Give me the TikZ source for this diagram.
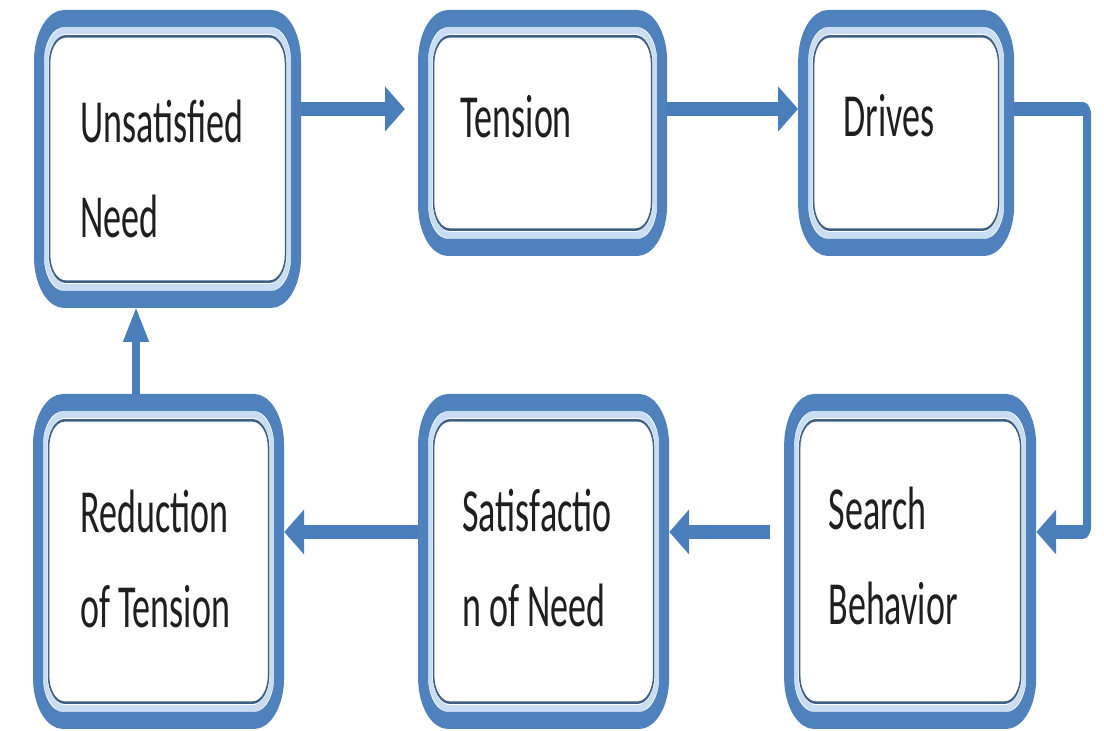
\documentclass[tikz,border=0pt]{standalone}
\usepackage{fontspec}
\setmainfont{Carlito}
\usetikzlibrary{arrows.meta,fit}
\definecolor{boxblue}{HTML}{4F81BD}
\definecolor{rimblue}{HTML}{C9DDF2}
\definecolor{rimdark}{HTML}{3F5F86}
\definecolor{flowblue}{HTML}{4A7EBB}

\begin{document}
\begin{tikzpicture}[>={Triangle[length=0.4cm,width=0.5cm]},
      stage/.style={draw=boxblue, line width=0.2cm, fill=white, rounded corners=0.5cm, inner sep=0pt,
        path picture={
          \draw[rimblue, line width=0.08cm, rounded corners=0.4cm]
            ([shift={(0.14cm,0.14cm)}]path picture bounding box.south west) rectangle
            ([shift={(-0.14cm,-0.14cm)}]path picture bounding box.north east);
          \draw[rimdark, line width=0.03cm, rounded corners=0.32cm]
            ([shift={(0.21cm,0.21cm)}]path picture bounding box.south west) rectangle
            ([shift={(-0.21cm,-0.21cm)}]path picture bounding box.north east);
        }},
      flow/.style={->, draw=flowblue, line width=0.16cm},
      lab/.style={font=\fontsize{20.5pt}{31.8pt}\selectfont, align=left, inner sep=0pt,
        anchor=base west, text=black!88}]
      \fill[white] (0,0) rectangle (22.08,14.62);
      \useasboundingbox (0,0) rectangle (22.08,14.62);
      \begin{scope}[x=0.02cm, y=0.011765cm, transform canvas={yscale=1.7}]
        \node[stage, fit={(39,712.5) (296,431.5)}] (need) {};
        \node[stage, fit={(423,712.5) (662,483.5)}] (tension) {};
        \node[stage, fit={(803,712.5) (1009,483.5)}] (drives) {};
        \node[stage, fit={(38,328.5) (279,10.5)}] (reduce) {};
        \node[stage, fit={(423,328.5) (664,10.5)}] (satis) {};
        \node[stage, fit={(789,328.5) (1031,10.5)}] (search) {};

        \node[lab] (needtxt) at (80,493) {Unsatisfied\\Need};
        \node[lab] (tensiontxt) at (460,593) {Tension};
        \node[lab] (drivestxt) at (843,594) {Drives};
        \node[lab] (reducetxt) at (80,103) {Reduction\\of Tension};
        \node[lab] (satistxt) at (462,104) {Satisfactio\\n of Need};
        \node[lab] (searchtxt) at (828,106) {Search\\Behavior};

        \coordinate (toprow) at (0,622);
        \coordinate (botrow) at (0,199);
        \coordinate (loopx) at (1087,0);
        \coordinate (upx) at (136,0);
        \draw[flow, shorten >=0.26cm] (need.east |- toprow) -- (tension.west |- toprow);
        \draw[flow] (tension.east |- toprow) -- (drives.west |- toprow);
        \draw[flow, rounded corners=0.08cm] (drives.east |- toprow) -| (loopx |- botrow) -- (search.east |- botrow);
        \draw[flow, shorten <=0.28cm] (search.west |- botrow) -- (satis.east |- botrow);
        \draw[flow] (satis.west |- botrow) -- (reduce.east |- botrow);
        \draw[flow] (reduce.north -| upx) -- (need.south -| upx);
      \end{scope}
    \end{tikzpicture}
\end{document}
